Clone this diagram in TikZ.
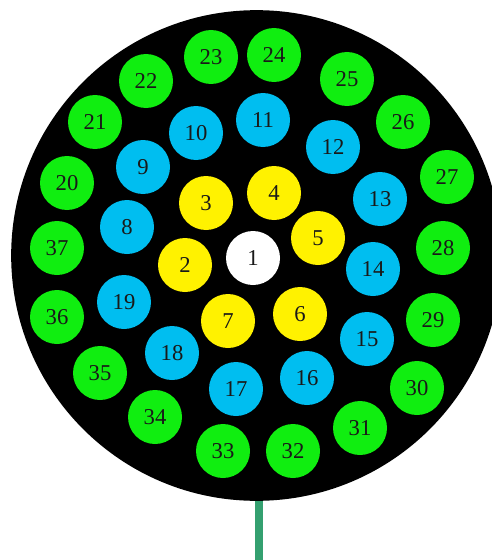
\documentclass[tikz,border=0pt]{standalone}
\usepackage{fontspec}
\setmainfont{Liberation Serif}
\definecolor{leafgreen}{RGB}{16,238,16}
\definecolor{skyblue}{RGB}{0,190,240}
\definecolor{stemgreen}{RGB}{52,160,112}
\tikzset{
  disc/.style={circle, fill=black, minimum size=368pt, inner sep=0pt},
  wire/.style={circle, minimum size=40.5pt, inner sep=0pt, text=black!90, font=\fontsize{17}{19}\selectfont},
  core/.style={wire, fill=white},
  inner/.style={wire, fill=yellow},
  middle/.style={wire, fill=skyblue},
  outer/.style={wire, fill=leafgreen},
  stem/.style={draw=stemgreen, line width=6pt}
}
\begin{document}
\begin{tikzpicture}[x=0.75pt, y=-0.75pt]
\useasboundingbox (0,0) rectangle (492,560);
\clip (0,0) rectangle (492,560);

\node[disc] (cable) at (256.5,255.5) {};
\coordinate (stemend) at (259,562);
\draw[stem] (cable.south -| stemend) -- (stemend);

% centre
\node[core] (n1) at (253,258) {1};

% first layer
\node[inner] (n2) at (185,265) {2};
\node[inner] (n3) at (206,203) {3};
\node[inner] (n4) at (274,193) {4};
\node[inner] (n5) at (318,238) {5};
\node[inner] (n6) at (300,314) {6};
\node[inner] (n7) at (228,321) {7};

% second layer
\node[middle] (n8) at (127,227) {8};
\node[middle] (n9) at (143,167) {9};
\node[middle] (n10) at (196,133) {10};
\node[middle] (n11) at (263,120) {11};
\node[middle] (n12) at (333,147) {12};
\node[middle] (n13) at (380,199) {13};
\node[middle] (n14) at (373,269) {14};
\node[middle] (n15) at (367,339) {15};
\node[middle] (n16) at (307,378) {16};
\node[middle] (n17) at (236,389) {17};
\node[middle] (n18) at (172,353) {18};
\node[middle] (n19) at (124,302) {19};

% third layer
\node[outer] (n20) at (67,183) {20};
\node[outer] (n21) at (95,122) {21};
\node[outer] (n22) at (146,81) {22};
\node[outer] (n23) at (211,57) {23};
\node[outer] (n24) at (274,55) {24};
\node[outer] (n25) at (347,79) {25};
\node[outer] (n26) at (403,122) {26};
\node[outer] (n27) at (447,177) {27};
\node[outer] (n28) at (443,248) {28};
\node[outer] (n29) at (433,320) {29};
\node[outer] (n30) at (417,388) {30};
\node[outer] (n31) at (360,428) {31};
\node[outer] (n32) at (293,451) {32};
\node[outer] (n33) at (223,451) {33};
\node[outer] (n34) at (155,417) {34};
\node[outer] (n35) at (100,373) {35};
\node[outer] (n36) at (57,317) {36};
\node[outer] (n37) at (57,248) {37};
\end{tikzpicture}
\end{document}
